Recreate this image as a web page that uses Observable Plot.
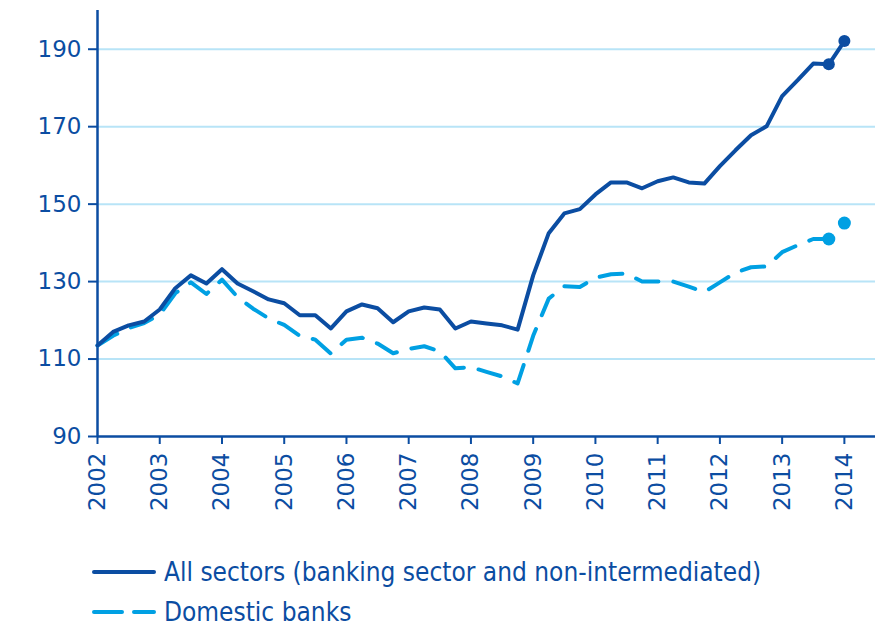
<!DOCTYPE html>
<html>
<head>
<meta charset="utf-8">
<script src="https://cdn.jsdelivr.net/npm/d3@7"></script>
<script src="https://cdn.jsdelivr.net/npm/@observablehq/plot@0.6"></script>
<style>
  html, body { margin: 0; padding: 0; background: #fff; }
  #wrap { position: relative; width: 875px; height: 627px; overflow: hidden; }
  #legend { position: absolute; left: 0; top: 548px; font-family: "Liberation Sans Narrow", "DejaVu Sans Condensed", "Roboto", sans-serif; font-size: 26px; color: #0B4DA2; }
  .item { position: absolute; left: 0; height: 40px; white-space: nowrap; display: flex; align-items: center; }
  .item svg { margin-left: 92px; margin-right: 8px; }
</style>
</head>
<body>
<div id="wrap">
  <div id="chart"></div>
  <div id="legend"></div>
</div>
<script>
// ---- data (quarterly index values, first quarter 2002 to first quarter 2014) ----
const startYear = 2002;
const seriesNames = ["All sectors (banking sector and non-intermediated)", "Domestic banks"];
const allSectors = [
  113.5, 117.0, 118.7, 119.7, 122.8, 128.3, 131.6, 129.5, 133.2, 129.5,
  127.5, 125.4, 124.4, 121.3, 121.3, 117.9, 122.3, 124.1, 123.1, 119.5,
  122.3, 123.3, 122.8, 117.9, 119.7, 119.2, 118.7, 117.6, 131.6, 142.5,
  147.6, 148.7, 152.5, 155.6, 155.6, 154.1, 155.9, 156.9, 155.6, 155.3,
  159.8, 163.9, 167.8, 170.1, 177.9, 182.0, 186.3, 186.1, 192.1
];
const domesticBanks = [
  113.5, 116.0, 118.0, 119.3, 121.5, 127.0, 129.8, 126.8, 130.5, 126.0,
  123.0, 120.5, 118.8, 116.0, 115.0, 111.4, 115.0, 115.5, 114.0, 111.5,
  112.6, 113.3, 112.0, 107.6, 107.9, 106.7, 105.5, 103.7, 116.0, 125.6,
  128.8, 128.6, 131.0, 131.9, 132.1, 130.0, 130.0, 130.0, 128.7, 127.3,
  129.8, 132.3, 133.7, 133.9, 137.6, 139.4, 141.0, 141.0, 145.1
];
const yearTicks = [2002, 2003, 2004, 2005, 2006, 2007, 2008, 2009, 2010, 2011, 2012, 2013, 2014];
const yTicks = [90, 110, 130, 150, 170, 190];
const gridValues = [110, 130, 150, 170, 190];

// ---- build table ----
const toRows = (vals, name) => vals.map((v, i) => ({ t: startYear + i / 4, v, name }));
const rowsAll = toRows(allSectors, seriesNames[0]);
const rowsDom = toRows(domesticBanks, seriesNames[1]);

const dark = "#0B4DA2";
const light = "#00A0E3";
const grid = "#B8E4F7";

const chart = Plot.plot({
  width: 875,
  height: 530,
  marginLeft: 97,
  marginRight: 0,
  marginTop: 10,
  marginBottom: 94,
  style: { fontFamily: "DejaVu Sans, sans-serif", fontSize: "23px", color: dark, background: "#fff", overflow: "visible" },
  x: { domain: [2002, 2014.5], label: null },
  y: { domain: [90, 200], label: null },
  marks: [
    Plot.ruleY(gridValues, { stroke: grid, strokeWidth: 2 }),
    Plot.axisY({ ticks: yTicks, tickSize: 9, tickPadding: 7, stroke: dark, strokeWidth: 2, fill: dark, tickFormat: d => String(d), fontSize: 23 }),
    Plot.axisX({ ticks: yearTicks, tickSize: 8, tickPadding: 8, tickRotate: -90, stroke: dark, strokeWidth: 2, fill: dark, tickFormat: d => String(d), fontSize: 23 }),
    Plot.ruleX([2002], { stroke: dark, strokeWidth: 2.5 }),
    Plot.ruleY([90], { stroke: dark, strokeWidth: 2.5 }),
    Plot.line(rowsDom, { x: "t", y: "v", stroke: light, strokeWidth: 4, strokeDasharray: "23,15", strokeLinecap: "round", strokeLinejoin: "round" }),
    Plot.line(rowsAll, { x: "t", y: "v", stroke: dark, strokeWidth: 4, strokeLinejoin: "round", strokeLinecap: "round" }),
    Plot.dot(rowsDom.slice(-2), { x: "t", y: "v", r: 6.5, fill: light }),
    Plot.dot(rowsAll.slice(-2), { x: "t", y: "v", r: 6, fill: dark })
  ]
});
document.getElementById("chart").appendChild(chart);

// ---- legend ----
const legend = document.getElementById("legend");
const entries = [
  { name: seriesNames[0], color: dark, dash: null, top: 4 },
  { name: seriesNames[1], color: light, dash: "28,12", top: 44 }
];
for (const e of entries) {
  const div = document.createElement("div");
  div.className = "item";
  div.style.top = e.top + "px";
  div.innerHTML = `<svg width="64" height="10"><line x1="2" y1="5" x2="62" y2="5" stroke="${e.color}" stroke-width="4" stroke-linecap="round" ${e.dash ? `stroke-dasharray="${e.dash}"` : ""}/></svg><span>${e.name}</span>`;
  legend.appendChild(div);
}
</script>
</body>
</html>
